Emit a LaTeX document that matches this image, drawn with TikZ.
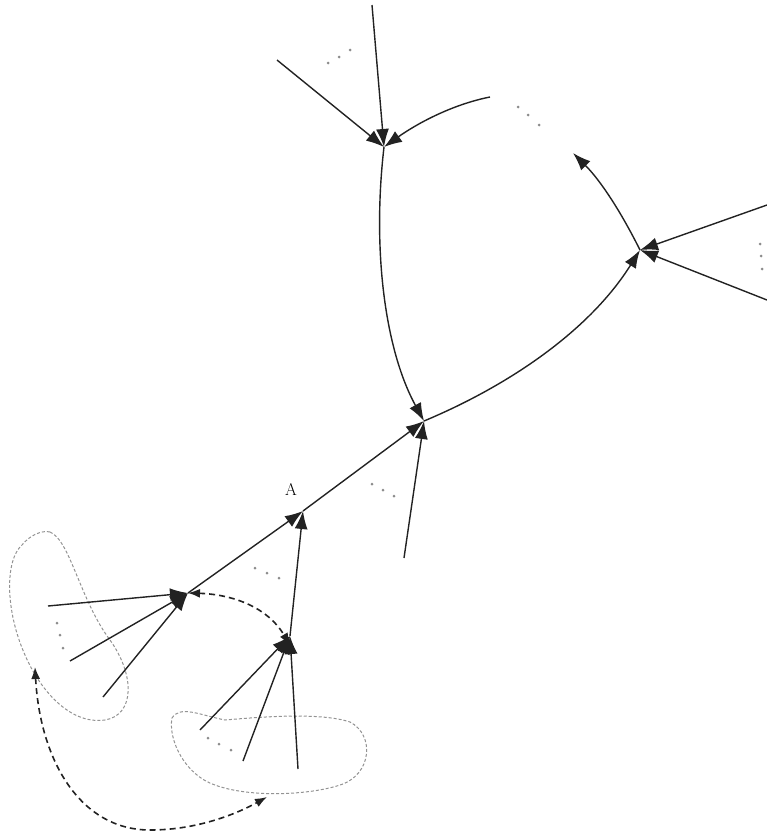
\documentclass[tikz,border=0pt]{standalone}
\usetikzlibrary{arrows.meta,positioning,calc}
\definecolor{edge}{HTML}{222222}
\tikzset{
  arrow/.style={-{Latex[length=18pt,width=13pt]}, line width=1.4pt, draw=edge},
  dasharrow/.style={{Latex[length=12pt,width=9pt]}-{Latex[length=12pt,width=9pt]}, line width=1.6pt, dashed, dash pattern=on 6pt off 4pt, draw=edge},
  blob/.style={draw=gray!85, line width=1pt, dashed, dash pattern=on 3pt off 2pt},
  dot/.style={circle, fill=gray!90, inner sep=0pt, minimum size=3pt}
}
\begin{document}
\begin{tikzpicture}[x=1pt,y=-1pt]
  \useasboundingbox (0,0) rectangle (767,838);
  % vertices
  \coordinate (top) at (384,147);
  \coordinate (ctr) at (424,421);
  \coordinate (rgt) at (640,250);
  \coordinate (A) at (303,511);
  \coordinate (lft) at (188,593);
  \coordinate (low) at (290,636);
  % loose ends
  \coordinate (t1) at (372,5);
  \coordinate (t2) at (277,60);
  \coordinate (t3) at (490,97);
  \coordinate (r1) at (767,205);
  \coordinate (r2) at (767,300);
  \coordinate (r3) at (573,153);
  \coordinate (c1) at (404,558);
  \coordinate (l1) at (48,606);
  \coordinate (l2) at (70,661);
  \coordinate (l3) at (103,697);
  \coordinate (w1) at (200,730);
  \coordinate (w2) at (243,761);
  \coordinate (w3) at (298,769);
  % groups
  \draw[blob] (50,532) .. controls (70,540) and (80,600) .. (110,640)
    .. controls (135,675) and (135,715) .. (105,720)
    .. controls (70,725) and (40,690) .. (25,655)
    .. controls (5,610) and (5,560) .. (22,545)
    .. controls (30,535) and (42,530) .. (50,532) -- cycle;
  \draw[blob] (172,718) .. controls (180,705) and (200,715) .. (225,720)
    .. controls (260,717) and (320,712) .. (350,722)
    .. controls (375,735) and (372,775) .. (340,785)
    .. controls (310,795) and (250,798) .. (215,785)
    .. controls (185,775) and (168,740) .. (172,718) -- cycle;
  % edges
  \draw[arrow] (t1) -- (top);
  \draw[arrow] (t2) -- (top);
  \draw[arrow] (t3) .. controls (450,105) and (415,125) .. (top);
  \draw[arrow] (top) .. controls (372,250) and (385,350) .. (ctr);
  \draw[arrow] (ctr) .. controls (510,385) and (590,330) .. (rgt);
  \draw[arrow] (r1) -- (rgt);
  \draw[arrow] (r2) -- (rgt);
  \draw[arrow] (rgt) .. controls (620,210) and (600,180) .. (r3);
  \draw[arrow] (c1) -- (ctr);
  \draw[arrow] (A) -- (ctr);
  \draw[arrow] (lft) -- (A);
  \draw[arrow] (low) -- (A);
  \draw[arrow] (l1) -- (lft);
  \draw[arrow] (l2) -- (lft);
  \draw[arrow] (l3) -- (lft);
  \draw[arrow] (w1) -- (low);
  \draw[arrow] (w2) -- (low);
  \draw[arrow] (w3) -- (low);
  \draw[dasharrow] (lft) .. controls (225,594) and (265,603) .. ([yshift=-9pt]low);
  \draw[dasharrow] (35,667) .. controls (40,760) and (80,830) .. (150,830)
    .. controls (200,830) and (240,812) .. (267,797);
  % label
  \node[font=\fontsize{17}{20}\selectfont] (lblA) at (291,489) {A};
  % elisions
  \foreach \p in {(328,63),(339,57),(350,50),(518,107),(528,115),(539,125),
                  (760,244),(761,256),(762,269),(372,484),(383,490),(394,496),
                  (255,568),(267,573),(279,578),(57,623),(60,635),(63,648),
                  (208,738),(219,744),(231,750)}
    \node[dot] at \p {};
\end{tikzpicture}
\end{document}
